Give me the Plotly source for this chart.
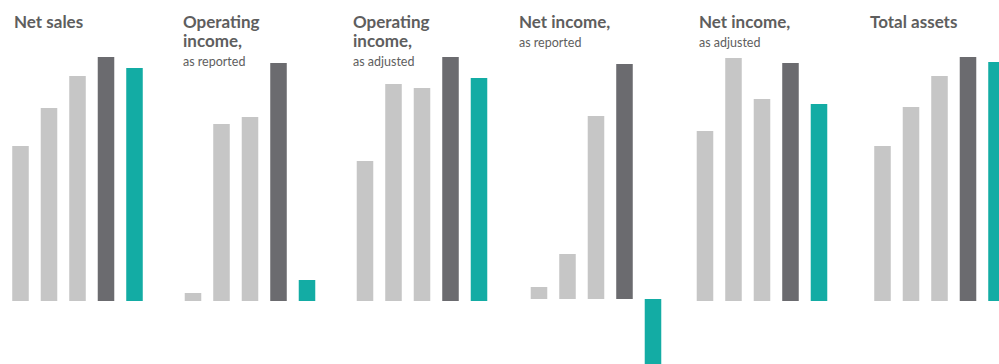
import plotly.graph_objects as go

# ---- data (relative bar heights) ----
years = ["Y1", "Y2", "Y3", "Y4", "Y5"]
net_sales = [155, 193, 225, 244, 233]
op_income_reported = [8, 177, 184, 238, 21]
op_income_adjusted = [140, 217, 213, 244, 223]
net_income_reported = [12, 45, 183, 235, -90]
net_income_adjusted = [170, 243, 202, 238, 197]
total_assets = [155, 194, 225, 244, 239]

titles = [
    ["Net sales"],
    ["Operating", "income,"],
    ["Operating", "income,"],
    ["Net income,"],
    ["Net income,"],
    ["Total assets"],
]
subtitles = ["", "as reported", "as adjusted", "as reported", "as adjusted", ""]

series = [net_sales, op_income_reported, op_income_adjusted,
          net_income_reported, net_income_adjusted, total_assets]

# ---- styling / layout ----
W, H = 999, 364
LIGHT = "#c6c6c6"
DARK = "#6b6b6f"
TEAL = "#13aca4"
bar_colors = [LIGHT, LIGHT, LIGHT, DARK, TEAL]
TITLE_COL = "#5e5e5e"

# panel pixel extents (left, right) and x-ranges
panel_px = [(6.25, 148.75), (178.75, 321.25), (350.75, 493.25),
            (524.75, 667.25), (690.75, 833.25), (868.25, 999)]
x_ranges = [[-0.5, 4.5]] * 5 + [[-0.5, -0.5 + (999 - 868.25) / 28.5]]
baselines = [301, 301, 301, 299, 301, 301]  # pixel row of zero line
title_x = [12, 181, 351, 517, 697, 868]

fig = go.Figure()
layout = dict(
    width=W, height=H,
    margin=dict(l=0, r=0, t=0, b=0),
    paper_bgcolor="white", plot_bgcolor="white",
    showlegend=False,
    bargap=0.42,
    font=dict(family="Lato, 'Open Sans', sans-serif"),
)

for i, vals in enumerate(series):
    n = i + 1
    xa = "x" if n == 1 else f"x{n}"
    ya = "y" if n == 1 else f"y{n}"
    fig.add_trace(go.Bar(
        x=years, y=vals, xaxis=xa, yaxis=ya,
        marker=dict(color=bar_colors, line=dict(width=0)),
        width=0.58,
        hoverinfo="skip",
    ))
    l, r = panel_px[i]
    b0 = baselines[i]
    layout[f"xaxis{'' if n == 1 else n}"] = dict(
        domain=[l / W, r / W], range=x_ranges[i], type="category",
        visible=False, fixedrange=True, anchor=ya,
    )
    layout[f"yaxis{'' if n == 1 else n}"] = dict(
        domain=[0, 1], range=[b0 - H, b0], visible=False,
        fixedrange=True, anchor=xa,
    )

annotations = []
def add_text(text, px, base_px, size, bold):
    center = base_px - 0.36 * size
    annotations.append(dict(
        text=f"<b>{text}</b>" if bold else text,
        x=px / W, y=1 - center / H, xref="paper", yref="paper",
        xanchor="left", yanchor="middle", showarrow=False,
        font=dict(size=size, color=TITLE_COL,
                  family="Lato, 'Open Sans', sans-serif"),
    ))

for i in range(6):
    lines = titles[i]
    for k, t in enumerate(lines):
        add_text(t, title_x[i], 28 + 19 * k, 17, True)
    if subtitles[i]:
        sub_base = 28 + 19 * (len(lines) - 1) + 19
        add_text(subtitles[i], title_x[i], sub_base, 12.5, False)

layout["annotations"] = annotations
fig.update_layout(**layout)
fig.write_html("out.html")
